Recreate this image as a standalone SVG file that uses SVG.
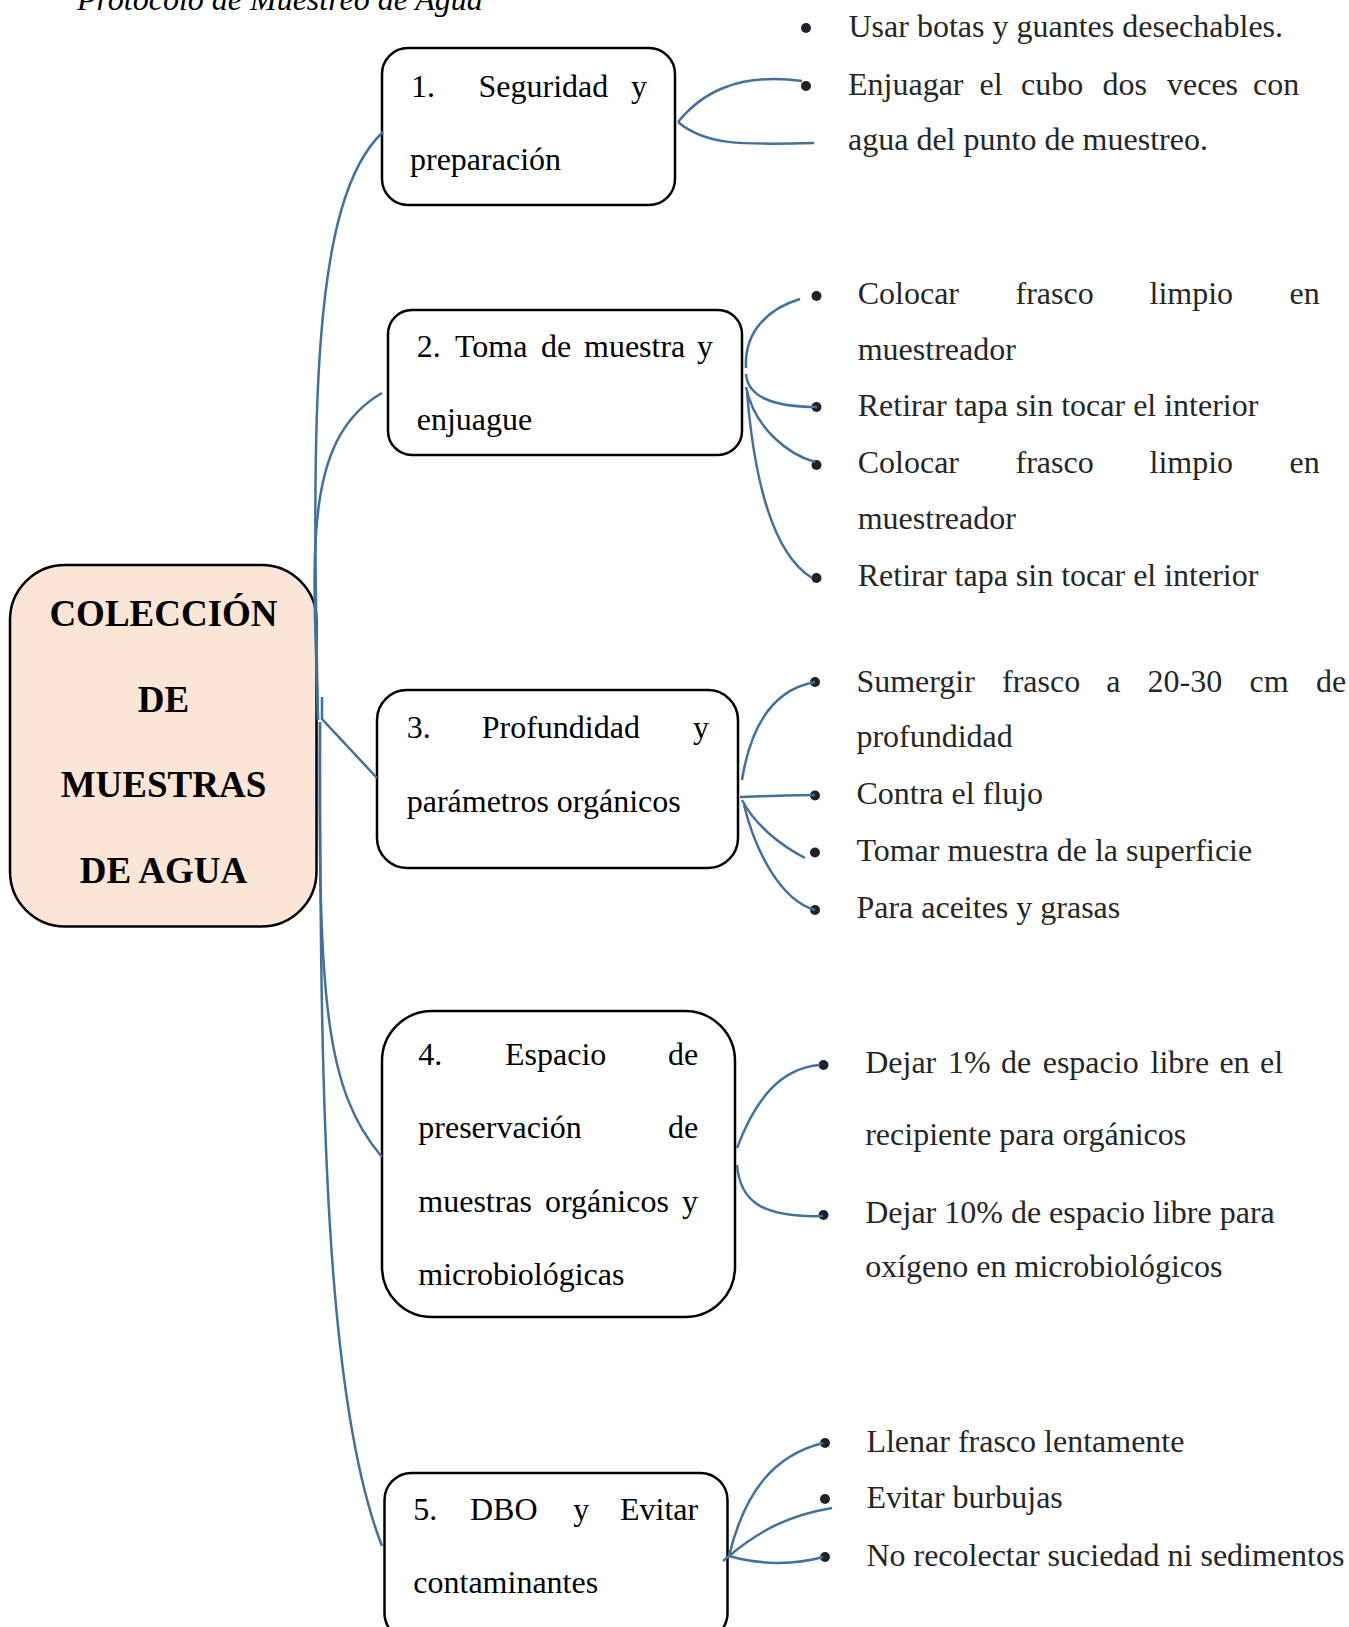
<svg xmlns="http://www.w3.org/2000/svg" width="1349" height="1627" viewBox="0 0 1349 1627">
<style>
.t{font-family:"Liberation Serif","Times New Roman",serif;font-size:32px;fill:#000}
.b{fill:#262626}
.box{fill:#fff;stroke:#000;stroke-width:2.5}
.main{fill:#FBE5D6;stroke:#000;stroke-width:2.5}
.h{font-family:"Liberation Serif","Times New Roman",serif;font-weight:bold;font-size:37px;text-anchor:middle;fill:#000}
.c{fill:none;stroke:#41719C;stroke-width:2.5}
.dot{fill:#1f2329}
</style>
<rect width="1349" height="1627" fill="#fff"/>
<text class="t" x="77" y="10" font-style="italic">Protocolo de Muestreo de Agua</text>

<g id="main">
<rect class="main" x="10" y="565" width="306.5" height="361.5" rx="55"/>
<text class="h" x="163.5" y="626">COLECCIÓN</text>
<text class="h" x="163.5" y="711.7">DE</text>
<text class="h" x="163.5" y="797.3">MUESTRAS</text>
<text class="h" x="163.5" y="883.3">DE AGUA</text>
</g>

<g id="n1">
<rect class="box" x="382" y="48" width="293" height="157" rx="26"/>
<text class="t" y="96.5"><tspan x="411">1.</tspan><tspan x="478.5">Seguridad</tspan><tspan x="631">y</tspan></text>
<text class="t" x="410" y="170">preparación</text>
</g>
<g id="n1-items">
<circle class="dot" cx="806" cy="28" r="5"/>
<circle class="dot" cx="806" cy="86" r="5"/>
<text class="t b" x="848.5" y="36.7">Usar botas y guantes desechables.</text>
<text class="t b" y="95"><tspan x="848">Enjuagar</tspan><tspan x="979.5">el</tspan><tspan x="1021">cubo</tspan><tspan x="1102.5">dos</tspan><tspan x="1167">veces</tspan><tspan x="1253">con</tspan></text>
<text class="t b" x="848" y="150">agua del punto de muestreo.</text>
</g>

<g id="n2">
<rect class="box" x="388" y="310" width="354" height="145" rx="24"/>
<text class="t" y="356.7"><tspan x="416.7">2.</tspan><tspan x="455">Toma</tspan><tspan x="541">de</tspan><tspan x="584">muestra</tspan><tspan x="697">y</tspan></text>
<text class="t" x="416.7" y="430">enjuague</text>
</g>
<g id="n2-items">
<circle class="dot" cx="816.5" cy="296" r="5"/>
<circle class="dot" cx="816.5" cy="407" r="5"/>
<circle class="dot" cx="816.5" cy="465" r="5"/>
<circle class="dot" cx="816.5" cy="578" r="5"/>
<text class="t b" y="303.5"><tspan x="857.7">Colocar</tspan><tspan x="1015.5">frasco</tspan><tspan x="1149.5">limpio</tspan><tspan x="1289.5">en</tspan></text>
<text class="t b" x="857.7" y="359.5">muestreador</text>
<text class="t b" x="857.7" y="416">Retirar tapa sin tocar el interior</text>
<text class="t b" y="472.5"><tspan x="857.7">Colocar</tspan><tspan x="1015.5">frasco</tspan><tspan x="1149.5">limpio</tspan><tspan x="1289.5">en</tspan></text>
<text class="t b" x="857.7" y="529">muestreador</text>
<text class="t b" x="857.7" y="586">Retirar tapa sin tocar el interior</text>
</g>

<g id="n3">
<rect class="box" x="377" y="690" width="361" height="178" rx="30"/>
<text class="t" y="738.3"><tspan x="406.7">3.</tspan><tspan x="481.7">Profundidad</tspan><tspan x="693">y</tspan></text>
<text class="t" x="406.7" y="811.7">parámetros orgánicos</text>
</g>
<g id="n3-items">
<circle class="dot" cx="815" cy="682" r="5"/>
<circle class="dot" cx="815" cy="795.5" r="5"/>
<circle class="dot" cx="815" cy="852.5" r="5"/>
<circle class="dot" cx="815" cy="910" r="5"/>
<text class="t b" y="691.7"><tspan x="856.4">Sumergir</tspan><tspan x="1002">frasco</tspan><tspan x="1106.3">a</tspan><tspan x="1147.5">20-30</tspan><tspan x="1249.5">cm</tspan><tspan x="1316">de</tspan></text>
<text class="t b" x="856.4" y="746.7">profundidad</text>
<text class="t b" x="856.4" y="804">Contra el flujo</text>
<text class="t b" x="856.4" y="860.7">Tomar muestra de la superficie</text>
<text class="t b" x="856.4" y="918.3">Para aceites y grasas</text>
</g>

<g id="n4">
<rect class="box" x="382" y="1011" width="353" height="306" rx="50"/>
<text class="t" y="1065"><tspan x="418.3">4.</tspan><tspan x="505">Espacio</tspan><tspan x="668">de</tspan></text>
<text class="t" y="1138.3"><tspan x="418.3">preservación</tspan><tspan x="668">de</tspan></text>
<text class="t" y="1211.7"><tspan x="418.3">muestras</tspan><tspan x="545">orgánicos</tspan><tspan x="682">y</tspan></text>
<text class="t" x="418.3" y="1285">microbiológicas</text>
</g>
<g id="n4-items">
<circle class="dot" cx="823.5" cy="1065" r="5"/>
<circle class="dot" cx="823.5" cy="1215" r="5"/>
<text class="t b" y="1073.3"><tspan x="865.2">Dejar</tspan><tspan x="948">1%</tspan><tspan x="1001">de</tspan><tspan x="1042.7">espacio</tspan><tspan x="1150.5">libre</tspan><tspan x="1219.4">en</tspan><tspan x="1260">el</tspan></text>
<text class="t b" x="865.2" y="1145">recipiente para orgánicos</text>
<text class="t b" x="865.2" y="1222.7">Dejar 10% de espacio libre para</text>
<text class="t b" x="865.2" y="1277.3">oxígeno en microbiológicos</text>
</g>

<g id="n5">
<rect class="box" x="384.5" y="1473" width="343" height="167" rx="27"/>
<text class="t" y="1520"><tspan x="413.3">5.</tspan><tspan x="470">DBO</tspan><tspan x="573.3">y</tspan><tspan x="620">Evitar</tspan></text>
<text class="t" x="413.3" y="1593.3">contaminantes</text>
</g>
<g id="n5-items">
<circle class="dot" cx="825" cy="1443" r="5"/>
<circle class="dot" cx="825" cy="1499" r="5"/>
<circle class="dot" cx="825" cy="1557" r="5"/>
<text class="t b" x="866.4" y="1451.7">Llenar frasco lentamente</text>
<text class="t b" x="866.4" y="1508.3">Evitar burbujas</text>
<text class="t b" x="866.4" y="1565.7">No recolectar suciedad ni sedimentos</text>
</g>

<g id="connectors">
<path class="c" d="M318,720 C312,420 310,200 383,132"/>
<path class="c" d="M318,720 C314,560 300,440 382,393"/>
<path class="c" d="M322,697 L322,719 L377,778"/>
<path class="c" d="M320,722 C318,1000 325,1090 382,1157"/>
<path class="c" d="M320,722 C320,1100 325,1400 382,1546"/>
<path class="c" d="M678,122 C700,95 735,72 802,81"/>
<path class="c" d="M678,122 C705,145 740,145 814,143"/>
<path class="c" d="M746,368 C744,330 770,308 800,299"/>
<path class="c" d="M746,374 C748,400 780,407 817,407"/>
<path class="c" d="M746,387 C755,430 790,455 815,462"/>
<path class="c" d="M747,392 C755,490 775,555 812,578"/>
<path class="c" d="M742,780 C750,730 770,690 815,682"/>
<path class="c" d="M740,797 C770,796 790,795 815,795"/>
<path class="c" d="M742,800 C755,825 780,845 805,858"/>
<path class="c" d="M744,805 C755,850 780,900 815,910"/>
<path class="c" d="M737,1148 C755,1100 780,1068 820,1065"/>
<path class="c" d="M737,1165 C740,1200 760,1218 823,1216"/>
<path class="c" d="M723,1561 L729,1556 C745,1490 775,1455 823,1443"/>
<path class="c" d="M729,1556 C760,1530 790,1515 832,1508"/>
<path class="c" d="M729,1556 C760,1565 795,1565 823,1557"/>
</g>
</svg>
